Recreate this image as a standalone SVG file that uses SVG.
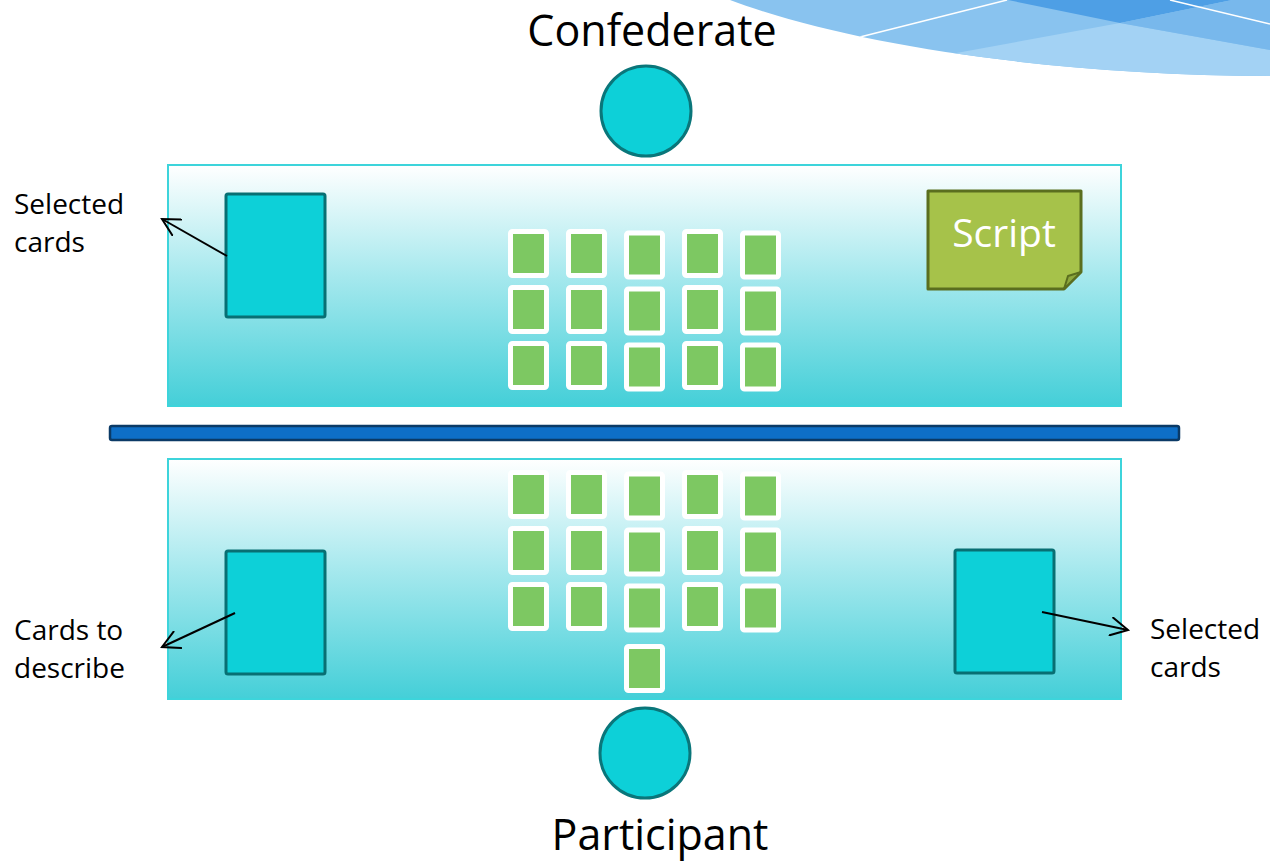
<svg xmlns="http://www.w3.org/2000/svg" width="1270" height="862" viewBox="0 0 1270 862">
  <defs>
    <linearGradient id="tableFill" x1="0" y1="0" x2="0" y2="1">
      <stop offset="0" stop-color="#ffffff"/>
      <stop offset="0.45" stop-color="#a8e9ee"/>
      <stop offset="1" stop-color="#44cfd8"/>
    </linearGradient>
    <clipPath id="waveClip">
      <path d="M730,0 C850,45 1050,75 1270,76 L1270,0 Z"/>
    </clipPath>
    <marker id="openArrow" viewBox="0 0 20 20" refX="18" refY="10" markerWidth="20" markerHeight="20" markerUnits="userSpaceOnUse" orient="auto">
      <path d="M1,1 L18,10 L1,19" fill="none" stroke="#000" stroke-width="2" stroke-linecap="round"/>
    </marker>
    <style>
      .table { fill: url(#tableFill); stroke: #3dd4db; stroke-width: 2; }
      .person { fill: #0dd0d8; stroke: #0a767a; stroke-width: 3; }
      .deck { fill: #0dd0d8; stroke: #086f73; stroke-width: 3; }
      .card { fill: #7dc862; stroke: #ffffff; stroke-width: 5; }
      .label { font-family: "Open Sans", "Noto Sans", sans-serif; fill: #000; }
      .side { font-size: 28px; }
      .role { font-size: 43px; }
      .arrow { fill: none; stroke: #000; stroke-width: 2; marker-end: url(#openArrow); }
    </style>
  </defs>

  <!-- decorative wave in the top-right corner -->
  <g id="wave" clip-path="url(#waveClip)">
    <rect x="700" y="0" width="570" height="80" fill="#89c3ef"/>
    <polygon points="940,56 1120,23 1270,50 1270,90 940,90" fill="#a3d2f4"/>
    <polygon points="1008,0 1120,23 1232,0" fill="#4e9fe5"/>
    <polygon points="1120,23 1232,0 1270,0 1270,50" fill="#78b8ec"/>
    <line x1="860" y1="37" x2="1007" y2="0" stroke="#ffffff" stroke-width="1.5"/>
    <line x1="1170" y1="0" x2="1270" y2="24" stroke="#ffffff" stroke-width="1.5"/>
  </g>

  <!-- confederate side -->
  <g id="confederate">
    <text class="label role" x="652" y="46" text-anchor="middle">Confederate</text>
    <circle class="person" cx="646" cy="111" r="45"/>
  </g>

  <g id="table-top">
    <rect class="table" x="168" y="165" width="953" height="241"/>
  </g>

  <g id="selected-top">
    <rect class="deck" x="226" y="194" width="99" height="123" rx="2"/>
  </g>

  <g id="script">
    <path d="M928,191 H1081 V272 L1064,289 H928 Z" fill="#a6c24a" stroke="#5a6e1f" stroke-width="3" stroke-linejoin="round"/>
    <path d="M1064,289 L1068,276 L1081,272 Z" fill="#8ea83d" stroke="#5a6e1f" stroke-width="2" stroke-linejoin="round"/>
    <text class="label" x="1004" y="247" text-anchor="middle" font-size="39" style="fill:#ffffff">Script</text>
  </g>

  <g id="cards-top">
    <rect class="card" x="510.5" y="231.5" width="36" height="44" rx="2"/>
    <rect class="card" x="568.5" y="231.5" width="36" height="44" rx="2"/>
    <rect class="card" x="626.5" y="233" width="36" height="44" rx="2"/>
    <rect class="card" x="684.5" y="231.5" width="36" height="44" rx="2"/>
    <rect class="card" x="742.5" y="233" width="36" height="44" rx="2"/>
    <rect class="card" x="510.5" y="287.5" width="36" height="44" rx="2"/>
    <rect class="card" x="568.5" y="287.5" width="36" height="44" rx="2"/>
    <rect class="card" x="626.5" y="289" width="36" height="44" rx="2"/>
    <rect class="card" x="684.5" y="287.5" width="36" height="44" rx="2"/>
    <rect class="card" x="742.5" y="289" width="36" height="44" rx="2"/>
    <rect class="card" x="510.5" y="343.5" width="36" height="44" rx="2"/>
    <rect class="card" x="568.5" y="343.5" width="36" height="44" rx="2"/>
    <rect class="card" x="626.5" y="345" width="36" height="44" rx="2"/>
    <rect class="card" x="684.5" y="343.5" width="36" height="44" rx="2"/>
    <rect class="card" x="742.5" y="345" width="36" height="44" rx="2"/>
  </g>

  <!-- screen between the two players -->
  <g id="divider">
    <rect x="110" y="426" width="1069" height="14" rx="2" fill="#0e6fc7" stroke="#0b3a66" stroke-width="2.5"/>
  </g>

  <g id="table-bottom">
    <rect class="table" x="168" y="459" width="953" height="240"/>
  </g>

  <g id="cards-bottom">
    <rect class="card" x="510.5" y="472.5" width="36" height="44" rx="2"/>
    <rect class="card" x="568.5" y="472.5" width="36" height="44" rx="2"/>
    <rect class="card" x="626.5" y="474" width="36" height="44" rx="2"/>
    <rect class="card" x="684.5" y="472.5" width="36" height="44" rx="2"/>
    <rect class="card" x="742.5" y="474" width="36" height="44" rx="2"/>
    <rect class="card" x="510.5" y="528.5" width="36" height="44" rx="2"/>
    <rect class="card" x="568.5" y="528.5" width="36" height="44" rx="2"/>
    <rect class="card" x="626.5" y="530" width="36" height="44" rx="2"/>
    <rect class="card" x="684.5" y="528.5" width="36" height="44" rx="2"/>
    <rect class="card" x="742.5" y="530" width="36" height="44" rx="2"/>
    <rect class="card" x="510.5" y="584.5" width="36" height="44" rx="2"/>
    <rect class="card" x="568.5" y="584.5" width="36" height="44" rx="2"/>
    <rect class="card" x="626.5" y="586" width="36" height="44" rx="2"/>
    <rect class="card" x="684.5" y="584.5" width="36" height="44" rx="2"/>
    <rect class="card" x="742.5" y="586" width="36" height="44" rx="2"/>
    <rect class="card" x="626.5" y="646.5" width="36" height="44" rx="2"/>
  </g>

  <g id="to-describe">
    <rect class="deck" x="226" y="551" width="99" height="123" rx="2"/>
  </g>

  <g id="selected-bottom">
    <rect class="deck" x="955" y="550" width="99" height="123" rx="2"/>
  </g>

  <!-- participant side -->
  <g id="participant">
    <circle class="person" cx="645" cy="753" r="45"/>
    <text class="label role" x="660" y="850" text-anchor="middle">Participant</text>
  </g>

  <!-- side labels -->
  <g id="label-selected-top">
    <text class="label side" x="14" y="214">Selected</text>
    <text class="label side" x="14" y="252">cards</text>
  </g>
  <g id="label-to-describe">
    <text class="label side" x="14" y="640">Cards to</text>
    <text class="label side" x="14" y="678">describe</text>
  </g>
  <g id="label-selected-bottom">
    <text class="label side" x="1150" y="639">Selected</text>
    <text class="label side" x="1150" y="677">cards</text>
  </g>

  <g id="connectors">
    <line class="arrow" x1="227" y1="256" x2="162" y2="219"/>
    <line class="arrow" x1="235" y1="613" x2="162" y2="647"/>
    <line class="arrow" x1="1042" y1="612" x2="1128" y2="630"/>
  </g>
</svg>
